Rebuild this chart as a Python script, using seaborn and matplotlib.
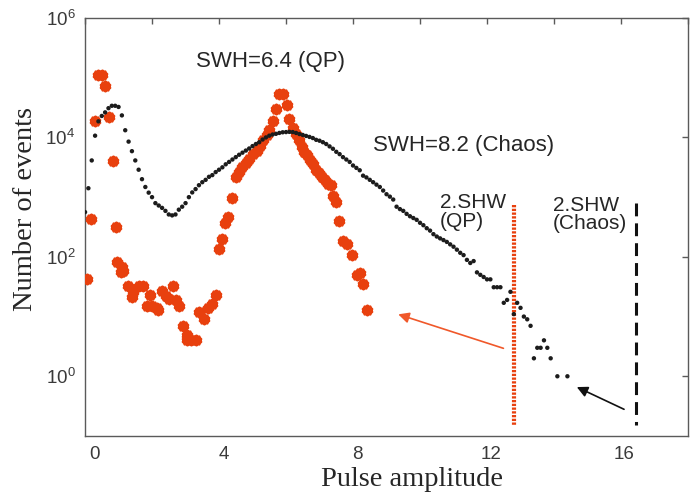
import numpy as np
import matplotlib
matplotlib.use("Agg")
import matplotlib.pyplot as plt
import seaborn as sns
from matplotlib.ticker import FixedLocator, FixedFormatter, LogFormatterMathtext, NullLocator
from matplotlib.transforms import ScaledTranslation

# ---------------- data ----------------
# Chaos (SWH=8.2): pulse-amplitude histogram, bins of 0.1
chaos_x = list(np.round(np.arange(0, 13.95, 0.1), 1)) + [14.1, 14.4]
chaos_y = [562, 1410, 4120, 10700, 18600, 22900, 26300, 30900, 33900, 33900,
           32400, 23400, 13200, 8510, 5890, 4120, 2880, 2000, 1480, 1190,
           1000, 794, 724, 661, 589, 513, 495, 513, 617, 692,
           794, 1000, 1200, 1365, 1585, 1780, 1950, 2190, 2340, 2630,
           2880, 3160, 3550, 3890, 4270, 4680, 5130, 5560, 6030, 6530,
           7160, 7760, 8320, 9230, 10000, 10700, 11200, 11500, 11900, 12200,
           12300, 12400, 12300, 11900, 11400, 11000, 10600, 10200, 9770, 9120,
           8810, 8320, 7760, 7080, 6460, 5750, 5250, 4680, 4270, 3890,
           3390, 3090, 2820, 2290, 2140, 1950, 1780, 1620, 1480, 1290,
           1120, 1020, 912, 692, 631, 589, 525, 479, 447, 417,
           372, 339, 302, 275, 240, 219, 204, 191, 178, 162,
           148, 132, 117, 107, 89, 79, 85, 55, 50, 46,
           42, 42, 31, 31, 31, 17, 19, 26, 11, 17,
           14, 10, 9, 7, 2, 3, 3, 4, 3, 2,
           1, 1]

# QP (SWH=6.4)
qp_x = [0.07, 0.18, 0.29, 0.40, 0.51, 0.60, 0.72, 0.82, 0.92, 0.96,
        1.06, 1.09, 1.14, 1.29, 1.39, 1.44, 1.62, 1.72, 1.84, 1.95,
        1.99, 2.14, 2.19, 2.29, 2.42, 2.52, 2.62, 2.72, 2.81, 2.92,
        3.04, 3.05, 3.16, 3.31, 3.40, 3.55, 3.68, 3.79, 3.90, 3.99,
        4.09, 4.18, 4.28, 4.40, 4.50, 4.60, 4.70, 4.81, 4.90, 5.02,
        5.12, 5.22, 5.32, 5.42, 5.50, 5.60, 5.71, 5.80, 5.92, 6.03,
        6.10, 6.20, 6.30, 6.38, 6.47, 6.54, 6.63, 6.72, 6.80, 6.90,
        6.99, 7.08, 7.17, 7.26, 7.33, 7.41, 7.49, 7.59, 7.71, 7.81,
        7.96, 8.11, 8.21, 8.31, 8.41]
qp_y = [42, 427, 18600, 112000, 112000, 72400, 22400, 3980, 316, 81,
        56, 68, 58, 32, 21, 26, 32, 32, 15, 23,
        15, 14, 13, 27, 22, 20, 32, 19, 15, 7,
        4, 5, 4, 4, 12, 9, 14, 16, 23, 135,
        200, 372, 457, 955, 2140, 2630, 3160, 3720, 4370, 5370,
        6030, 7240, 8910, 11200, 13500, 19100, 29500, 53700, 53700, 35500,
        20400, 14500, 11500, 8910, 6920, 5620, 5010, 4170, 3630, 2880,
        2510, 2140, 1910, 1660, 1580, 1050, 832, 398, 186, 162,
        107, 49, 54, 35, 13]

shw_qp = 12.82
shw_chaos = 16.44
xtick_pos = [0, 2, 4, 6, 8, 10, 12, 14, 16, 18]
xtick_lab = ["0", "", "4", "", "8", "", "12", "", "16", ""]
ytick_pos = [1, 1e2, 1e4, 1e6]

# ---------------- style ----------------
RED = "#E8400E"
ARROW_RED = "#F0582A"
DOT = "#1c1c1c"
AXC = "#5a5a5a"
TXT = "#262626"

sns.set_theme(style="white")
plt.rcParams["font.family"] = ["Liberation Sans", "DejaVu Sans"]
plt.rcParams["mathtext.fontset"] = "custom"
plt.rcParams["mathtext.rm"] = "Liberation Sans"
plt.rcParams["mathtext.default"] = "regular"

fig = plt.figure(figsize=(6.97, 4.95), dpi=100)
ax = fig.add_axes([0.122, 0.1192, 0.8651, 0.8444])

sns.scatterplot(x=qp_x, y=qp_y, ax=ax, marker=(10, 1, 0), s=40, color=RED,
                edgecolor=RED, linewidth=2.4, zorder=3, legend=False)
sns.scatterplot(x=chaos_x, y=chaos_y, ax=ax, marker="o", s=10, color=DOT,
                edgecolor="none", linewidth=0, zorder=4, legend=False)

ax.set_yscale("log")
ax.set_xlim(0, 18)
ax.set_ylim(0.1, 1e6)

# 2.SHW lines
ax.plot([shw_qp, shw_qp], [730, 0.15], color=RED, lw=3.0,
        linestyle=(0, (0.55, 0.35)), zorder=2, solid_capstyle="butt",
        dash_capstyle="butt")
ax.plot([shw_chaos, shw_chaos], [790, 0.15], color="#111111", lw=2.2,
        linestyle=(0, (4.2, 2.3)), zorder=2, dash_capstyle="butt")

# arrows
ax.annotate("", xy=(9.35, 10.9), xytext=(12.49, 2.94),
            arrowprops=dict(arrowstyle="-|>", color=ARROW_RED, lw=1.2,
                            mutation_scale=16, shrinkA=0, shrinkB=0))
ax.annotate("", xy=(14.68, 0.66), xytext=(16.09, 0.28),
            arrowprops=dict(arrowstyle="-|>", color="#111111", lw=1.2,
                            mutation_scale=16, shrinkA=0, shrinkB=0))

# texts
ax.text(5.54, 1.87e5, "SWH=6.4 (QP)", fontsize=16, color=TXT, ha="center", va="center")
ax.text(11.30, 7.3e3, "SWH=8.2 (Chaos)", fontsize=16, color=TXT, ha="center", va="center")
ax.text(10.60, 566, "2.SHW\n(QP)", fontsize=15, color=TXT, ha="left", va="center",
        linespacing=0.95)
ax.text(13.97, 514, "2.SHW\n(Chaos)", fontsize=15, color=TXT, ha="left", va="center",
        linespacing=0.95)

# axes / ticks
ax.xaxis.set_major_locator(FixedLocator(xtick_pos))
ax.xaxis.set_major_formatter(FixedFormatter(xtick_lab))
ax.yaxis.set_major_locator(FixedLocator(ytick_pos))
ax.yaxis.set_major_formatter(LogFormatterMathtext())
ax.yaxis.set_minor_locator(NullLocator())
ax.xaxis.set_minor_locator(NullLocator())
ax.tick_params(axis="both", which="major", direction="in", length=4, width=1.0,
               color=AXC, labelcolor="#3a3a3a", labelsize=13.5,
               top=True, right=True, pad=7)
for sp in ax.spines.values():
    sp.set_color(AXC)
    sp.set_linewidth(1.0)
ax.grid(False)

ax.set_xlabel("Pulse amplitude", family=["Liberation Serif"], fontsize=20.5, color=TXT)
ax.set_ylabel("Number of events", family=["Liberation Serif"], fontsize=20.5, color=TXT)
ax.xaxis.set_label_coords(0.542, -0.074)
ax.yaxis.set_label_coords(-0.078, 0.543)

offs = [9, 0, 5, 0, 4, 0, 4, 0, 3, 0]
for lbl, dx in zip(ax.get_xticklabels(), offs):
    lbl.set_transform(lbl.get_transform() + ScaledTranslation(dx / 100, 0, fig.dpi_scale_trans))

fig.savefig("out.png", dpi=100)
